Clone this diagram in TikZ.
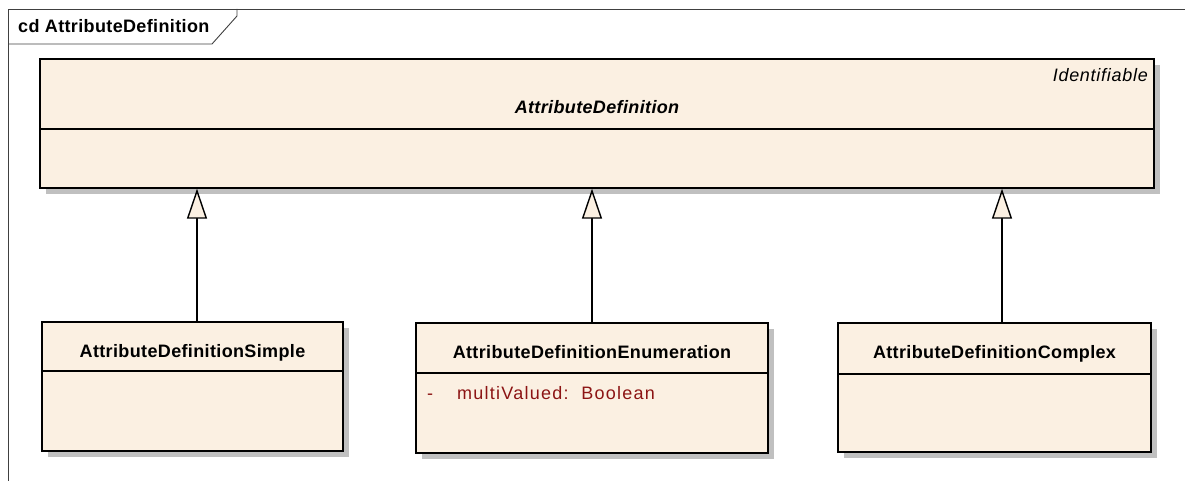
\documentclass[tikz,border=0pt]{standalone}
\usepackage{fontspec}
\setmainfont[LetterSpace=2]{Liberation Sans}
\newfontfamily\italsp[LetterSpace=4]{Liberation Sans}
\newfontfamily\attrsp[LetterSpace=7]{Liberation Sans}
\usetikzlibrary{shadows,arrows.meta}
\definecolor{cream}{RGB}{251,240,226}
\definecolor{shade}{RGB}{192,192,192}
\definecolor{attrred}{RGB}{140,20,20}
\tikzset{
  classbox/.style={draw=black, line width=1.4pt, fill=cream, inner sep=0pt,
    drop shadow={shadow xshift=6pt, shadow yshift=-6pt, fill=shade, opacity=1}},
  divider/.style={line width=1.4pt},
  framelines/.style={line width=0.9pt, draw=black!75},
  txt/.style={inner sep=0pt, font=\fontsize{18}{20}\selectfont},
  bname/.style={txt, font=\fontsize{18}{20}\selectfont\bfseries, anchor=base},
  attrtxt/.style={txt, font=\attrsp\fontsize{18}{20}\selectfont, text=attrred, anchor=base west},
  gen/.style={line width=1.4pt, -{Triangle[open, length=30pt, width=20pt, fill=cream]}}
}
\begin{document}
\begin{tikzpicture}[x=1pt,y=-1pt]
\useasboundingbox (0,0) rectangle (1185,481);
% frame
\draw[framelines] (8,481) -- (8,9) -- (1185,9);
\draw[framelines] (8,44) -- (212,44) -- (237,16) -- (237,9);
\node[txt, font=\fontsize{18}{20}\selectfont\bfseries, anchor=base west] (framelabel) at (18,33) {cd AttributeDefinition};
% top class
\node[classbox, minimum width=1114pt, minimum height=129pt] (top) at (597,123.5) {};
\draw[divider] (top.west |- 0,129) -- (top.east |- 0,129);
\node[bname, font=\fontsize{18}{20}\selectfont\bfseries\itshape] (topname) at (597,114) {AttributeDefinition};
\node[txt, font=\italsp\fontsize{18}{20}\selectfont\itshape, anchor=base east] (stereo) at (1148,82) {Identifiable};
% children
\node[classbox, minimum width=301pt, minimum height=129pt] (simple) at (192.5,386.5) {};
\draw[divider] (simple.west |- 0,371) -- (simple.east |- 0,371);
\node[bname] (simplename) at (192.5,357) {AttributeDefinitionSimple};

\node[classbox, minimum width=352pt, minimum height=130pt] (enum) at (592,388) {};
\draw[divider] (enum.west |- 0,373) -- (enum.east |- 0,373);
\node[bname] (enumname) at (592,358) {AttributeDefinitionEnumeration};
\node[attrtxt] (vis) at (427,399) {-};
\node[attrtxt] (attr) at (457,399) {multiValued:\ \ Boolean};

\node[classbox, minimum width=313pt, minimum height=129pt] (complex) at (994.5,387.5) {};
\draw[divider] (complex.west |- 0,374) -- (complex.east |- 0,374);
\node[bname] (complexname) at (994.5,358) {AttributeDefinitionComplex};
% generalizations
\draw[gen] ([xshift=4.5pt]simple.north) -- ([xshift=4.5pt]simple.north |- top.south);
\draw[gen] (enum.north) -- (enum.north |- top.south);
\draw[gen] ([xshift=7.5pt]complex.north) -- ([xshift=7.5pt]complex.north |- top.south);
\end{tikzpicture}
\end{document}
